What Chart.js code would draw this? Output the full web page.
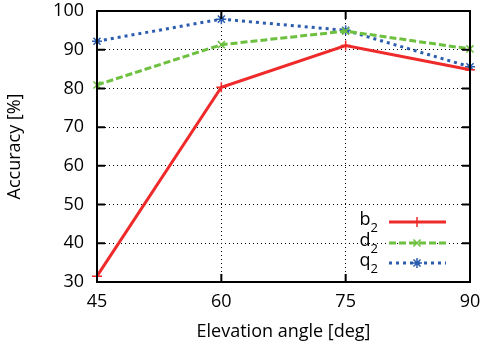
<!DOCTYPE html>
<html><head><meta charset="utf-8">
<script src="https://cdn.jsdelivr.net/npm/chart.js@4"></script>
<style>html,body{margin:0;padding:0;background:#fff}#w{width:482px;height:352px}</style>
</head><body><div id="w"><canvas id="c" width="482" height="352"></canvas></div>
<script>
const angles = [45, 60, 75, 90];
const b2 = [31.5, 80.3, 91.1, 84.8];
const d2 = [80.9, 91.3, 94.8, 90.2];
const q2 = [92.2, 97.9, 95.0, 85.6];
const seriesNames = ['b', 'd', 'q'];
const xTicks = [45, 60, 75, 90];
const yTicks = [30, 40, 50, 60, 70, 80, 90, 100];
const FONT = '"Open Sans", sans-serif';
const FS = 18;

const pts = v => angles.map((a, i) => ({x: a, y: v[i]}));

const frame = {
  id: 'frame',
  afterDraw(chart) {
    const {ctx, chartArea: a, scales: {x, y}} = chart;
    ctx.save();
    ctx.strokeStyle = '#000';
    ctx.lineWidth = 2;
    ctx.strokeRect(a.left, a.top, a.right - a.left, a.bottom - a.top);
    ctx.beginPath();
    const tl = 8;
    yTicks.forEach(t => {
      const py = y.getPixelForValue(t);
      ctx.moveTo(a.left, py); ctx.lineTo(a.left + tl, py);
      ctx.moveTo(a.right, py); ctx.lineTo(a.right - tl, py);
    });
    xTicks.forEach(t => {
      const px = x.getPixelForValue(t);
      ctx.moveTo(px, a.bottom); ctx.lineTo(px, a.bottom - tl);
      ctx.moveTo(px, a.top); ctx.lineTo(px, a.top + tl);
    });
    ctx.stroke();
    // legend
    const rows = [222, 243, 263];
    chart.data.datasets.forEach((ds, i) => {
      const ry = rows[i];
      ctx.fillStyle = '#000';
      ctx.textBaseline = 'middle';
      ctx.textAlign = 'right';
      ctx.font = '13px ' + FONT;
      const sw = ctx.measureText('2').width;
      ctx.fillText('2', 378, ry + 6);
      ctx.font = FS + 'px ' + FONT;
      ctx.fillText(seriesNames[i], 378 - sw, ry - 2);
      ctx.strokeStyle = ds.borderColor;
      ctx.lineWidth = ds.borderWidth;
      ctx.setLineDash(ds.borderDash || []);
      ctx.beginPath(); ctx.moveTo(389, ry); ctx.lineTo(446, ry); ctx.stroke();
      ctx.setLineDash([]);
      ctx.lineWidth = ds.pointBorderWidth;
      Chart.helpers.drawPoint(ctx, {pointStyle: ds.pointStyle, radius: ds.pointRadius, borderWidth: ds.pointBorderWidth, rotation: 0}, 417, ry);
    });
    ctx.restore();
  }
};

const common = {showLine: true, fill: false, borderWidth: 3, pointRadius: 5, pointBorderWidth: 1.5, clip: false, tension: 0};

new Chart(document.getElementById('c'), {
  type: 'scatter',
  data: {
    datasets: [
      Object.assign({label: 'b2', data: pts(b2), borderColor: '#ee2a2a', backgroundColor: '#ee2a2a', pointBorderColor: '#ee2a2a', pointStyle: 'cross', borderDash: []}, common),
      Object.assign({label: 'd2', data: pts(d2), borderColor: '#6ec040', backgroundColor: '#6ec040', pointBorderColor: '#6ec040', pointStyle: 'crossRot', borderDash: [7, 3]}, common),
      Object.assign({label: 'q2', data: pts(q2), borderColor: '#2b5cae', backgroundColor: '#2b5cae', pointBorderColor: '#2b5cae', pointStyle: 'star', borderDash: [3, 4]}, common)
    ]
  },
  options: {
    responsive: false,
    animation: false,
    events: [],
    layout: {padding: {top: 11, right: 12, left: 0, bottom: 0}},
    plugins: {legend: {display: false}, tooltip: {enabled: false}},
    scales: {
      x: {
        type: 'linear', min: 45, max: 90,
        afterBuildTicks: s => { s.ticks = xTicks.map(v => ({value: v})); },
        afterFit: s => { s.height = 70; s.paddingLeft = 0; s.paddingRight = 0; },
        ticks: {font: {family: FONT, size: FS}, color: '#000', padding: 9, maxRotation: 0},
        grid: {color: '#000', lineWidth: 1, drawTicks: false},
        border: {display: false, dash: [1, 3]},
        title: {display: true, text: 'Elevation angle [deg]', font: {family: FONT, size: FS}, color: '#000', padding: {top: 0, bottom: 9}}
      },
      y: {
        min: 30, max: 100,
        afterBuildTicks: s => { s.ticks = yTicks.map(v => ({value: v})); },
        afterFit: s => { s.width = 97; s.paddingTop = 0; s.paddingBottom = 0; },
        ticks: {font: {family: FONT, size: FS}, color: '#000', padding: 13},
        grid: {color: '#000', lineWidth: 1, drawTicks: false},
        border: {display: false, dash: [1, 3]},
        title: {display: true, text: 'Accuracy [%]', font: {family: FONT, size: FS}, color: '#000', padding: {top: 4, bottom: 0}}
      }
    }
  },
  plugins: [frame]
});
</script></body></html>
